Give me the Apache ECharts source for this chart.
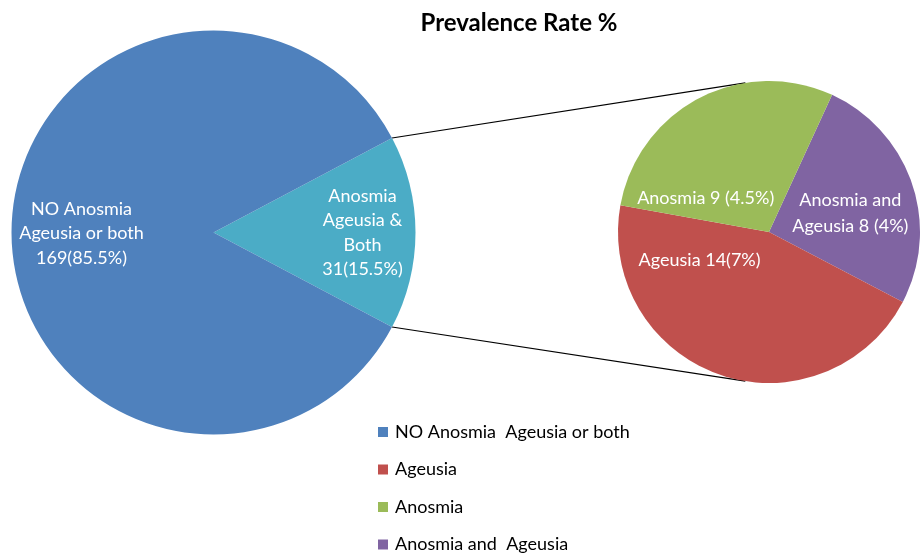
<!DOCTYPE html>
<html>
<head>
<meta charset="utf-8">
<title>Prevalence Rate %</title>
<script src="https://cdn.jsdelivr.net/npm/echarts@6/dist/echarts.min.js"></script>
<style>
  html, body { margin: 0; padding: 0; background: #fff; }
  #chart { width: 922px; height: 553px; }
</style>
</head>
<body>
<div id="chart"></div>
<script>
// main pie
var mainNames = ['Anosmia Ageusia & Both', 'NO Anosmia  Ageusia or both'];
var mainValues = [31, 169];
var mainLabels = ['Anosmia\nAgeusia &\nBoth\n31(15.5%)', 'NO Anosmia\nAgeusia or both\n169(85.5%)'];

// breakdown pie of the 31
var subNames = ['Anosmia and  Ageusia', 'Ageusia', 'Anosmia'];
var subValues = [8, 14, 9];
var subLabels = ['Anosmia and\nAgeusia 8 (4%)', 'Ageusia 14(7%)', 'Anosmia 9 (4.5%)'];

var legendNames = ['NO Anosmia  Ageusia or both', 'Ageusia', 'Anosmia', 'Anosmia and  Ageusia'];

// layout
var FONT = 'Lato, "Open Sans", sans-serif';
var mainCenter = [213.5, 232.5], mainR = 202;
var subCenter = [769, 232], subR = 151;
var mainColors = ['#4BACC6', '#4F81BD'];
var subColors = ['#8064A2', '#C0504D', '#9BBB59'];
var mainShift = [[45, 0], [-28, 1]];
var subShift = [[7, 7], [-44, -46], [-27, 36]];

var total = mainValues.reduce(function (a, b) { return a + b; }, 0);
var halfAngle = mainValues[0] / total * 180;

// connector lines: from the edges of the split slice to the second pie
var rad = Math.PI / 180;
var p1 = [mainCenter[0] + mainR * Math.cos(halfAngle * rad), mainCenter[1] - mainR * Math.sin(halfAngle * rad)];
var p2 = [mainCenter[0] + mainR * Math.cos(halfAngle * rad), mainCenter[1] + mainR * Math.sin(halfAngle * rad)];
var q1 = [subCenter[0] - subR * Math.sin(9 * rad), subCenter[1] - subR * Math.cos(9 * rad)];
var q2 = [subCenter[0] - subR * Math.sin(9 * rad), subCenter[1] + subR * Math.cos(9 * rad)];

function shiftLayout(shifts) {
  return function (params) {
    var s = shifts[params.dataIndex];
    return { dx: s[0], dy: s[1] };
  };
}

var chart = echarts.init(document.getElementById('chart'));
chart.setOption({
  animation: false,
  title: {
    text: 'Prevalence Rate %',
    left: 514,
    top: 6,
    textAlign: 'center',
    textStyle: { fontFamily: FONT, fontSize: 24, fontWeight: 'bold', color: '#000' }
  },
  legend: {
    orient: 'vertical',
    left: 378,
    top: 423,
    height: 200,
    padding: 0,
    itemWidth: 10,
    itemHeight: 10,
    itemGap: 19.5,
    icon: 'rect',
    selectedMode: false,
    data: legendNames,
    textStyle: { fontFamily: FONT, fontSize: 18, lineHeight: 16, color: '#000', padding: [0, 0, 0, 2] }
  },
  graphic: [
    { type: 'line', shape: { x1: p1[0], y1: p1[1], x2: q1[0], y2: q1[1] }, style: { stroke: '#000', lineWidth: 1.2 }, z: 0 },
    { type: 'line', shape: { x1: p2[0], y1: p2[1], x2: q2[0], y2: q2[1] }, style: { stroke: '#000', lineWidth: 1.2 }, z: 0 }
  ],
  series: [
    {
      type: 'pie',
      center: mainCenter,
      radius: [0, mainR],
      startAngle: halfAngle,
      clockwise: true,
      silent: true,
      z: 2,
      label: {
        show: true,
        position: 'inside',
        color: '#fff',
        fontFamily: FONT,
        fontSize: 18,
        lineHeight: 24.5,
        formatter: function (p) { return mainLabels[p.dataIndex]; }
      },
      labelLayout: shiftLayout(mainShift),
      labelLine: { show: false },
      itemStyle: { borderWidth: 0 },
      data: mainNames.map(function (n, i) {
        return { name: n, value: mainValues[i], itemStyle: { color: mainColors[i] } };
      })
    },
    {
      type: 'pie',
      center: subCenter,
      radius: [0, subR],
      startAngle: 65.3,
      clockwise: true,
      silent: true,
      z: 2,
      label: {
        show: true,
        position: 'inside',
        color: '#fff',
        fontFamily: FONT,
        fontSize: 18,
        lineHeight: 26,
        formatter: function (p) { return subLabels[p.dataIndex]; }
      },
      labelLayout: shiftLayout(subShift),
      labelLine: { show: false },
      itemStyle: { borderWidth: 0 },
      data: subNames.map(function (n, i) {
        return { name: n, value: subValues[i], itemStyle: { color: subColors[i] } };
      })
    }
  ]
});
</script>
</body>
</html>
